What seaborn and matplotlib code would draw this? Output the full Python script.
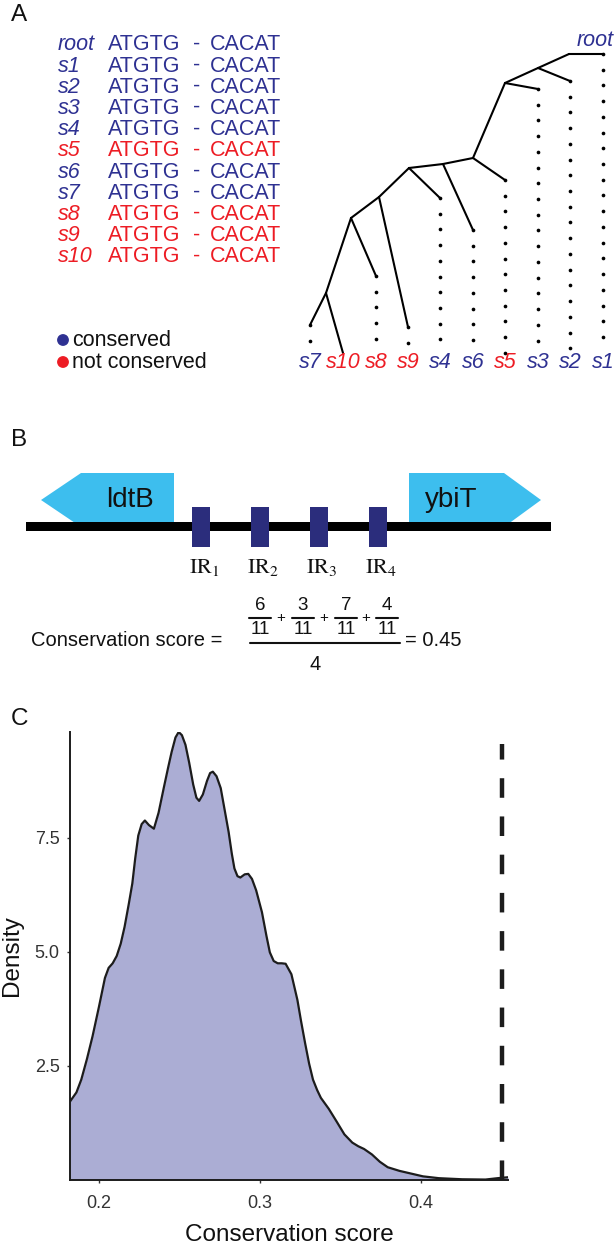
import numpy as np
import pandas as pd
import matplotlib
matplotlib.use("Agg")
import matplotlib.pyplot as plt
import seaborn as sns
from matplotlib.patches import Polygon, Rectangle, Circle

# ---------------- data ----------------
# Panel A: alignment rows
seq_names = ["root", "s1", "s2", "s3", "s4", "s5", "s6", "s7", "s8", "s9", "s10"]
seq_conserved = [True, True, True, True, True, False, True, True, False, False, False]
motif_left = "ATGTG"
motif_right = "CACAT"
legend_labels = ["conserved", "not conserved"]

# Panel A: tree (layout in panel pixel units)
tree_nodes = {
    "root": (603, 54), "A": (569, 54), "B": (538, 68), "C": (505, 83),
    "D": (473, 158), "E": (443, 164), "F": (409, 168), "G": (379, 197),
    "H": (351, 218), "I": (326, 293),
    "s1": (603, 54), "s2": (570, 81), "s3": (538, 89), "s4": (440, 198),
    "s5": (505, 180), "s6": (473, 230), "s7": (310, 325), "s8": (376, 276),
    "s9": (408, 327), "s10": (343, 353),
}
tree_edges = [("root", "A"), ("A", "B"), ("B", "s2"), ("B", "C"), ("C", "s3"),
              ("C", "D"), ("D", "s5"), ("D", "E"), ("E", "s6"), ("E", "F"),
              ("F", "s4"), ("F", "G"), ("G", "s9"), ("G", "H"), ("H", "s8"),
              ("H", "I"), ("I", "s7"), ("I", "s10")]
tip_order = ["s7", "s10", "s8", "s9", "s4", "s6", "s5", "s3", "s2", "s1"]
tip_conserved = [True, False, False, False, True, True, False, True, True, True]
tip_extra_dots = [1, 0, 4, 1, 9, 7, 11, 16, 17, 18]

# Panel B: genes and inverted repeats
gene_names = ["ldtB", "ybiT"]
gene_body = [(81, 174), (409, 504)]
gene_tip = [41, 541]
ir_labels = ["IR$_1$", "IR$_2$", "IR$_3$", "IR$_4$"]
ir_centers = [201, 260, 319, 378]
ir_numerators = ["6", "3", "7", "4"]
ir_denominator = "11"
n_ir = "4"
score_value = "0.45"

# Panel C: density of conservation scores
score_x = [0.182, 0.186, 0.189, 0.1925, 0.196, 0.200, 0.2037, 0.2060, 0.2085, 0.211,
           0.2135, 0.2159, 0.2185, 0.2207, 0.2225, 0.2244, 0.2265, 0.2285, 0.2310, 0.2341,
           0.2370, 0.2402, 0.2430, 0.2451, 0.2475, 0.2495, 0.2515, 0.2537, 0.2560, 0.2585,
           0.2605, 0.2622, 0.2645, 0.2671, 0.2690, 0.2707, 0.2730, 0.2756, 0.2780, 0.2805,
           0.2825, 0.2841, 0.2860, 0.2878, 0.2905, 0.2927, 0.2950, 0.2976, 0.3012, 0.3040,
           0.3061, 0.3085, 0.311, 0.3135, 0.3159, 0.3195, 0.3232, 0.3255, 0.328, 0.3305,
           0.3329, 0.3355, 0.3378, 0.3427, 0.3476, 0.3524, 0.3573, 0.3610, 0.3646, 0.3695,
           0.3744, 0.3793, 0.3866, 0.3939, 0.4012, 0.411, 0.4256, 0.44, 0.4476, 0.454]
density_y = [1.72, 1.92, 2.2, 2.65, 3.15, 3.8, 4.43, 4.65, 4.75, 4.91,
             5.18, 5.55, 6.05, 6.5, 7.05, 7.55, 7.8, 7.88, 7.78, 7.7,
             8.05, 8.59, 9.05, 9.38, 9.70, 9.82, 9.75, 9.54, 9.15, 8.67,
             8.38, 8.31, 8.45, 8.75, 8.92, 8.95, 8.85, 8.59, 8.12, 7.63,
             7.15, 6.83, 6.66, 6.63, 6.70, 6.71, 6.6, 6.35, 5.87, 5.35,
             4.99, 4.80, 4.75, 4.75, 4.74, 4.51, 3.95, 3.48, 3.0, 2.55,
             2.2, 1.97, 1.8, 1.56, 1.28, 1.0, 0.82, 0.74, 0.68, 0.56,
             0.40, 0.28, 0.20, 0.14, 0.08, 0.04, 0.016, 0.01, 0.04, 0.06]
observed_score = 0.45
x_ticks = [0.2, 0.3, 0.4]
y_ticks = [2.5, 5.0, 7.5]
y_tick_labels = ["2.5", "5.0", "7.5"]

# ---------------- style ----------------
sns.set_theme(style="white")
plt.rcParams["font.family"] = ["Liberation Sans", "DejaVu Sans"]
plt.rcParams["mathtext.fontset"] = "stix"

BLUE = "#2E3192"
RED = "#ED1C24"
SKY = "#3DBEEE"
NAVY = "#2B2D7C"
INK = "#1c1c1c"

W, H = 615, 1250
fig = plt.figure(figsize=(W / 100, H / 100), dpi=100)
fig.patch.set_facecolor("white")

ov = fig.add_axes([0, 0, 1, 1])
ov.set_xlim(0, W)
ov.set_ylim(H, 0)
ov.axis("off")

# panel labels
for lab, yy in [("A", 15), ("B", 440), ("C", 719)]:
    ov.text(11, yy, lab, fontsize=17.5, va="center", ha="left", color="#111111")

# ---------- Panel A: alignment ----------
row0, row_step = 45, 21.2
for i, (name, cons) in enumerate(zip(seq_names, seq_conserved)):
    y = row0 + i * row_step
    c = BLUE if cons else RED
    ov.text(58, y, name, fontsize=15.5, style="italic", color=c, va="center", ha="left")
    ov.text(108, y, motif_left, fontsize=15.5, color=c, va="center", ha="left")
    ov.text(197, y - 1, "-", fontsize=15.5, color=c, va="center", ha="center")
    ov.text(210, y, motif_right, fontsize=15.5, color=c, va="center", ha="left")

for j, (lab, c) in enumerate(zip(legend_labels, [BLUE, RED])):
    y = 340 + j * 22
    ov.add_patch(Circle((63, y), 5.2, color=c, zorder=3))
    ov.text(72, y, lab, fontsize=15.5, color="#111111", va="center", ha="left")

# ---------- Panel A: tree ----------
for a, b in tree_edges:
    (x0, y0), (x1, y1) = tree_nodes[a], tree_nodes[b]
    ov.plot([x0, x1], [y0, y1], color="black", lw=1.5, solid_capstyle="round", zorder=2)

dot_step = 15.72
for name, cons, n_extra in zip(tip_order, tip_conserved, tip_extra_dots):
    tx, ty = tree_nodes[name]
    ys = ty + dot_step * np.arange(0, n_extra + 1)
    if name == "s10":
        ys = ys[:0]
    ov.scatter(np.full(len(ys), tx), ys, s=7, color="black", zorder=3, linewidths=0)
    ov.text(tx, 362, name, fontsize=15.5, style="italic",
            color=BLUE if cons else RED, va="center", ha="center")
rx, ry = tree_nodes["root"]
ov.text(rx - 8, 40, "root", fontsize=15.5, style="italic", color=BLUE, va="center", ha="center")

# ---------- Panel B: gene diagram ----------
yc, half = 500, 27
(l0, l1), (r0, r1) = gene_body
ov.add_patch(Polygon([(l1, yc - half), (l0, yc - half), (gene_tip[0], yc),
                      (l0, yc + half), (l1, yc + half)], closed=True, color=SKY, lw=0, zorder=2))
ov.add_patch(Polygon([(r0, yc - half), (r1, yc - half), (gene_tip[1], yc),
                      (r1, yc + half), (r0, yc + half)], closed=True, color=SKY, lw=0, zorder=2))
ov.text((l0 + l1) / 2 + 2, yc, gene_names[0], fontsize=20, color="#111111", va="center", ha="center", zorder=4)
ov.text((r0 + r1) / 2 - 5, yc, gene_names[1], fontsize=20, color="#111111", va="center", ha="center", zorder=4)
ov.add_patch(Rectangle((26, 522), 525, 9, color="black", lw=0, zorder=3))
for xc, lab in zip(ir_centers, ir_labels):
    ov.add_patch(Rectangle((xc - 9, 507), 18, 40, color=NAVY, lw=0, zorder=4))
    ov.text(xc + 3, 567, lab, fontsize=16, color="#111111", va="center", ha="center",
            family="STIXGeneral")

# formula
ov.text(31, 641, "Conservation score =", fontsize=14.5, color="#111111", va="center", ha="left")
frac_x = [260, 303, 346, 387]
for k, (fx, num) in enumerate(zip(frac_x, ir_numerators)):
    ov.text(fx, 606, num, fontsize=13.5, color="#111111", va="center", ha="center")
    ov.text(fx, 630, ir_denominator, fontsize=13.5, color="#111111", va="center", ha="center")
    ov.plot([fx - 11, fx + 11], [617.5, 617.5], color="#111111", lw=1.5)
    if k < 3:
        ov.text((fx + frac_x[k + 1]) / 2 - 1, 618, "+", fontsize=11, color="#111111", va="center", ha="center")
ov.plot([250, 400], [643, 643], color="#111111", lw=1.5)
ov.text(315, 664, n_ir, fontsize=14.5, color="#111111", va="center", ha="center")
ov.text(405, 641, "= " + score_value, fontsize=14.5, color="#111111", va="center", ha="left")

# ---------- Panel C: density ----------
ax = fig.add_axes([70 / W, 1 - 1180 / H, 438 / W, 448 / H])
df = pd.DataFrame({"score": score_x, "density": density_y})
ax.fill_between(df["score"], df["density"], color="#ABADD4", lw=0, zorder=1)
sns.lineplot(data=df, x="score", y="density", color=INK, lw=1.6, ax=ax, zorder=2)
ax.axvline(observed_score, ymin=0, ymax=9.55 / 9.82, color=INK, lw=3.2,
           linestyle=(0, (4.4, 4.2)), zorder=3)
ax.set_xlim(0.182, 0.454)
ax.set_ylim(0, 9.82)
ax.set_xticks(x_ticks)
ax.set_xticklabels([f"{t:.1f}" for t in x_ticks])
ax.set_yticks(y_ticks)
ax.set_yticklabels(y_tick_labels)
sns.despine(ax=ax)
for s in ["left", "bottom"]:
    ax.spines[s].set_color(INK)
    ax.spines[s].set_linewidth(1.4)
ax.tick_params(axis="both", which="major", direction="out", length=2.5, width=1.0,
               color="#333333", labelsize=13, labelcolor="#333333",
               bottom=True, left=True)
ax.tick_params(axis="x", pad=8)
ax.tick_params(axis="y", pad=5)
ax.set_xlabel("Conservation score", fontsize=17.5, color="#111111", labelpad=9)
ax.set_ylabel("Density", fontsize=17.5, color="#111111", labelpad=8)
ax.set_facecolor("none")

fig.savefig("out.png", dpi=100, facecolor="white")
